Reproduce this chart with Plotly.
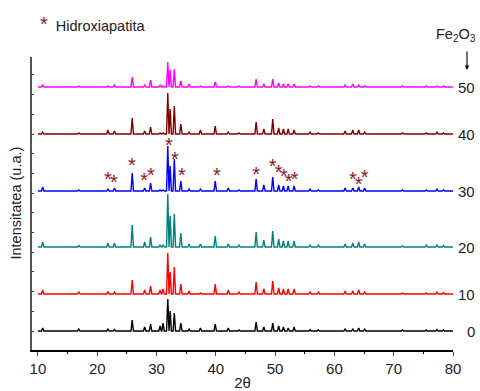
import plotly.graph_objects as go

# Peak positions (2theta) and heights per sample (arbitrary units)
peak_pos = [10.8, 16.9, 21.8, 22.9, 25.9, 28.0, 29.0, 30.6, 31.1, 31.9, 32.3, 33.0, 34.1, 35.5,
            37.4, 39.9, 42.1, 43.9, 46.8, 48.1, 49.6, 50.6, 51.4, 52.2, 53.2, 55.9, 57.3,
            61.8, 63.1, 64.1, 65.1, 71.5, 75.5, 77.3, 78.4]

h0  = [3, 2, 2, 1.5, 11, 4, 7, 5, 8, 32, 20, 18, 8, 2, 3, 7, 3, 1, 9, 4, 8, 5, 4, 3, 4, 1.5, 1, 2, 2, 3, 2, 1, 1, 1.5, 1]
h10 = [4, 2, 2.5, 2, 14, 4, 8, 4, 5, 41, 22, 27, 10, 3, 1, 10, 4, 2, 12, 5, 13, 6, 5, 5, 5, 2, 2, 3, 3, 4, 2, 1, 1, 2, 1.5]
h20 = [5, 1.5, 4, 4, 22, 5, 10, 2, 2, 53, 31, 33, 14, 3, 3, 11, 3, 2, 15, 7, 16, 8, 6, 6, 6, 2, 2, 3, 4, 5, 3, 1, 2, 2, 1.5]
h30 = [4, 1, 2, 3, 18, 3, 8, 1, 1, 45, 25, 32, 10, 2, 2, 10, 3, 1, 12, 6, 14, 6, 5, 5, 5, 2, 1, 3, 3, 4, 3, 1, 1, 2, 1]
h40 = [2, 1, 4, 3, 16, 3, 7, 1, 1, 41, 25, 28, 10, 2, 4, 8, 2, 1, 12, 5, 15, 6, 5, 5, 4, 2, 1, 3, 4, 4, 2, 1, 1, 2, 1]
h50 = [2, 1, 1, 2, 10, 2, 7, 2, 1, 25, 17, 18, 6, 3, 1, 5, 1, 1, 8, 3, 8, 4, 3, 3, 3, 1, 1, 2, 3, 2, 1, 1, 1, 1, 1]

sample_labels = ["0", "10", "20", "30", "40", "50"]
offsets = [19, 56, 103, 159, 216, 263]
colors = ["#000000", "#FF0000", "#008080", "#0000FF", "#800000", "#FF00FF"]
heights = [h0, h10, h20, h30, h40, h50]

# Hydroxyapatite marks on the 30 pattern
star_x = [21.8, 22.8, 25.85, 27.9, 29.05, 32.1, 33.1, 34.3, 40.2, 46.8, 49.6, 50.6, 51.5, 52.3, 53.3, 63.1, 64.1, 65.1]
star_y = [173, 170, 187, 172, 177, 207, 193, 177, 177, 178, 186, 180, 176, 171, 173, 173, 168, 175]

x_ticks = [10, 20, 30, 40, 50, 60, 70, 80]

HW = 0.21
STAR_COLOR = "#8B1A1A"
TXT = "#222"

def profile(base, hs):
    xs = [10.0]
    ys = [base]
    for p, h in zip(peak_pos, hs):
        xs += [p - HW, p, p + HW]
        ys += [base, base + h, base]
    xs.append(80.0)
    ys.append(base)
    return xs, ys

fig = go.Figure()
for lab, off, col, hs in zip(sample_labels, offsets, colors, heights):
    xs, ys = profile(off, hs)
    fig.add_trace(go.Scatter(x=xs, y=ys, mode="lines", line=dict(color=col, width=1.4),
                             showlegend=False, hoverinfo="skip"))
    fig.add_annotation(x=1, xref="paper", y=off, yref="y", text=lab, showarrow=False,
                       xanchor="right", xshift=24, font=dict(family="Arial", size=15, color=TXT))

fig.add_trace(go.Scatter(x=star_x, y=[v - 4 for v in star_y], mode="text", text=["*"] * len(star_x),
                         textposition="middle center",
                         textfont=dict(family="Arial", size=20, color=STAR_COLOR),
                         showlegend=False, hoverinfo="skip"))

# legend-like label
fig.add_annotation(xref="paper", yref="paper", x=0.0, y=1.0, xanchor="left", yanchor="middle",
                   xshift=6, yshift=33, showarrow=False,
                   text="<span style='color:#8B1A1A;font-size:20px'>*</span>  Hidroxiapatita",
                   font=dict(family="Arial", size=14.5, color=TXT))

# Fe2O3 label with arrow
fig.add_annotation(xref="paper", yref="paper", x=1.0, y=1.0, xanchor="right", yanchor="middle",
                   xshift=25, yshift=22, showarrow=False,
                   text="Fe<sub>2</sub>O<sub>3</sub>",
                   font=dict(family="Arial", size=14.5, color=TXT))
fig.add_annotation(xref="paper", yref="paper", x=1.0, y=1.0, ax=0, ay=-20,
                   xshift=14, yshift=-13, showarrow=True, arrowhead=2, arrowsize=0.8,
                   arrowwidth=1.1, arrowcolor="#000", text="")

# y title
fig.add_annotation(xref="paper", yref="paper", x=0, y=0.5, xanchor="right", yanchor="middle",
                   xshift=-7, textangle=-90, showarrow=False, text="Intensitatea (u.a.)",
                   font=dict(family="Arial", size=14.5, color=TXT))

fig.update_layout(
    width=480, height=391,
    margin=dict(l=32, r=27, t=57, b=41, autoexpand=False),
    paper_bgcolor="white", plot_bgcolor="white",
    xaxis=dict(range=[9, 80], tickvals=x_ticks, ticks="outside", ticklen=4, tickwidth=1,
               automargin=False,
               showline=True, linecolor="#000", linewidth=1.5, showgrid=False, zeroline=False,
               minor=dict(ticks="outside", ticklen=2, dtick=5, tick0=5, tickcolor="#000"),
               tickfont=dict(family="Arial", size=15, color=TXT),
               title=dict(text="2θ", standoff=12, font=dict(family="Arial", size=15, color=TXT))),
    yaxis=dict(range=[0, 293], showticklabels=False, ticks="inside", ticklen=2, dtick=19.7, tick0=19,
               automargin=False,
               showline=True, linecolor="#555", linewidth=1.5, showgrid=False, zeroline=False),
)

fig.write_html("out.html")
